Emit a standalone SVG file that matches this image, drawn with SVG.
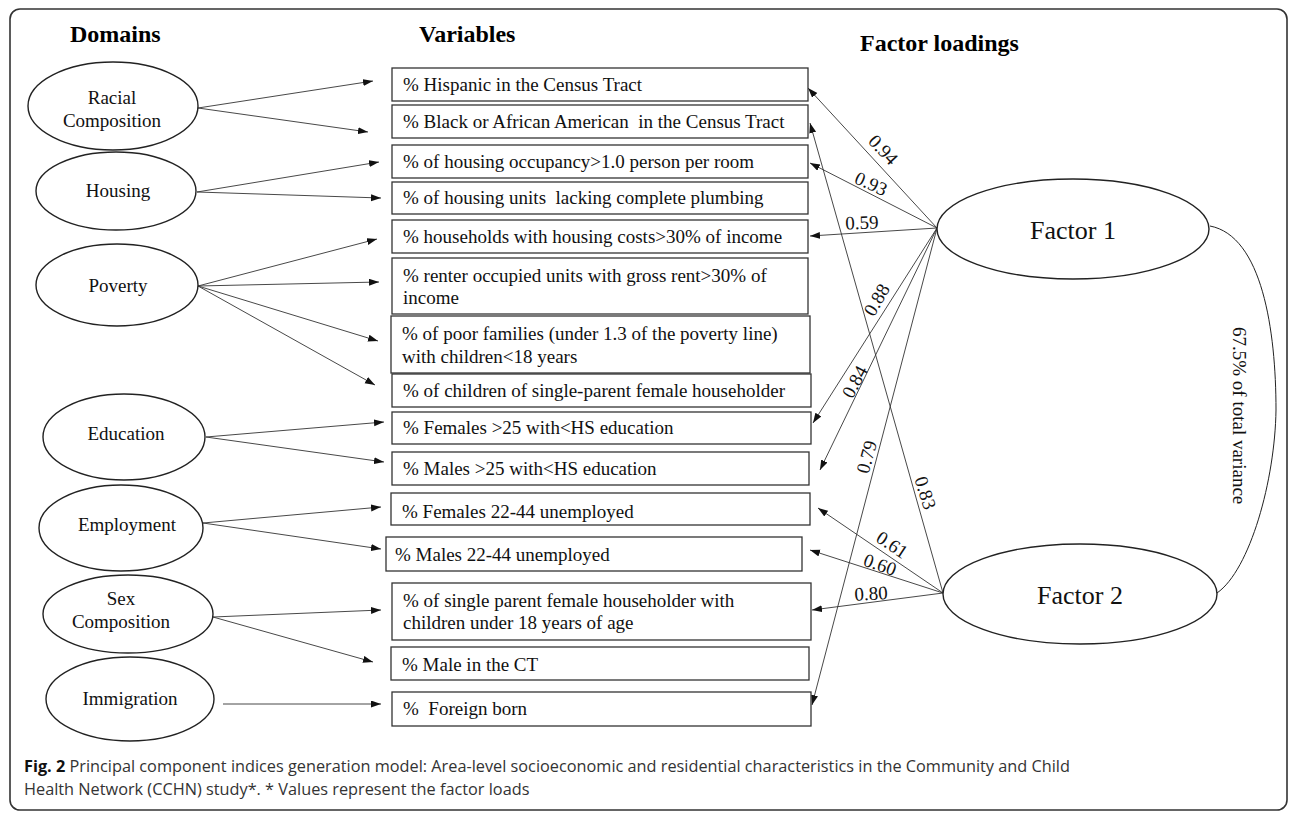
<svg xmlns="http://www.w3.org/2000/svg" width="1290" height="814" viewBox="0 0 1290 814">
<style>
.t{font-family:"Liberation Serif","Times New Roman",serif;font-size:19px;fill:#111;white-space:pre}
.h{font-weight:bold;font-size:24px;fill:#000}
.box{fill:#fff;stroke:#333;stroke-width:1.3}
.ell{fill:#fff;stroke:#222;stroke-width:1.4}
.ln{stroke:#333;stroke-width:0.9;fill:none;marker-end:url(#ah)}
.c{text-anchor:middle}
.f{font-size:26px}
.cap{font-family:"Open Sans","Noto Sans",sans-serif;font-size:16.3px;fill:#333}
</style>
<defs>
<marker id="ah" markerUnits="userSpaceOnUse" markerWidth="11" markerHeight="8" refX="10" refY="3.5" orient="auto">
<path d="M0,0 L10,3.5 L0,7 z" fill="#111"/>
</marker>
</defs>
<rect x="10" y="9" width="1277" height="801" rx="10" fill="#fff" stroke="#333" stroke-width="1.6"/>
<text class="t h" x="70" y="42">Domains</text>
<text class="t h" x="419" y="42">Variables</text>
<text class="t h" x="860" y="51">Factor loadings</text>

<g id="connectors">
<line class="ln" x1="198" y1="108" x2="373" y2="81"/>
<line class="ln" x1="198" y1="108" x2="368" y2="132"/>
<line class="ln" x1="197" y1="192" x2="379" y2="162"/>
<line class="ln" x1="197" y1="192" x2="381" y2="198"/>
<line class="ln" x1="198" y1="286" x2="377" y2="239"/>
<line class="ln" x1="198" y1="286" x2="379" y2="282"/>
<line class="ln" x1="198" y1="286" x2="378" y2="341"/>
<line class="ln" x1="198" y1="286" x2="375" y2="385"/>
<line class="ln" x1="206" y1="437" x2="384" y2="422"/>
<line class="ln" x1="206" y1="437" x2="384" y2="462"/>
<line class="ln" x1="203" y1="523" x2="381" y2="507"/>
<line class="ln" x1="203" y1="523" x2="381" y2="549"/>
<line class="ln" x1="213" y1="617" x2="381" y2="610"/>
<line class="ln" x1="213" y1="617" x2="373" y2="662"/>
<line class="ln" x1="223" y1="704" x2="381" y2="704"/>
<line class="ln" x1="937" y1="228" x2="808" y2="88"/>
<line class="ln" x1="937" y1="228" x2="810" y2="163"/>
<line class="ln" x1="937" y1="228" x2="810" y2="236"/>
<line class="ln" x1="937" y1="228" x2="813" y2="423"/>
<line class="ln" x1="937" y1="228" x2="820" y2="470"/>
<line class="ln" x1="937" y1="228" x2="812" y2="705"/>
<line class="ln" x1="943" y1="593" x2="810" y2="123"/>
<line class="ln" x1="943" y1="593" x2="818" y2="508"/>
<line class="ln" x1="943" y1="593" x2="810" y2="550"/>
<line class="ln" x1="943" y1="593" x2="812" y2="610"/>
<path d="M1210,226 C1262,236 1276,330 1276,410 C1275,480 1250,570 1217,593" fill="none" stroke="#222" stroke-width="1"/>
<text class="t" transform="translate(1233,327) rotate(90)">67.5% of total variance</text>
<g class="t c">
<text transform="translate(883,150) rotate(47)" y="6">0.94</text>
<text transform="translate(871,184) rotate(24)" y="6">0.93</text>
<text transform="translate(862,223) rotate(-2)" y="6">0.59</text>
<text transform="translate(877,300) rotate(-60)" y="6">0.88</text>
<text transform="translate(855,382) rotate(-62)" y="6">0.84</text>
<text transform="translate(867,457) rotate(-75)" y="6">0.79</text>
<text transform="translate(925,493) rotate(72)" y="6">0.83</text>
<text transform="translate(892,545) rotate(34)" y="6">0.61</text>
<text transform="translate(880,565) rotate(19)" y="6">0.60</text>
<text transform="translate(871,594) rotate(-3)" y="6">0.80</text>
</g>
</g>

<g id="d-racial"><ellipse class="ell" cx="113" cy="106" rx="85" ry="44"/><text class="t c" x="112" y="104">Racial</text><text class="t c" x="112" y="127">Composition</text></g>
<g id="d-housing"><ellipse class="ell" cx="116" cy="191" rx="80" ry="39"/><text class="t c" x="118" y="197">Housing</text></g>
<g id="d-poverty"><ellipse class="ell" cx="117" cy="285" rx="81" ry="41"/><text class="t c" x="118" y="292">Poverty</text></g>
<g id="d-education"><ellipse class="ell" cx="124" cy="437" rx="81" ry="43"/><text class="t c" x="126" y="440">Education</text></g>
<g id="d-employment"><ellipse class="ell" cx="121" cy="528" rx="82" ry="43"/><text class="t c" x="127" y="531">Employment</text></g>
<g id="d-sex"><ellipse class="ell" cx="128" cy="614" rx="85" ry="39"/><text class="t c" x="121" y="605">Sex</text><text class="t c" x="121" y="628">Composition</text></g>
<g id="d-immigration"><ellipse class="ell" cx="130" cy="699" rx="84" ry="42"/><text class="t c" x="130" y="705">Immigration</text></g>

<g id="v1"><rect class="box" x="392" y="68" width="416" height="33"/><text class="t" x="403" y="91">% Hispanic in the Census Tract</text></g>
<g id="v2"><rect class="box" x="392" y="105" width="416" height="33"/><text class="t" x="403" y="128" xml:space="preserve">% Black or African American  in the Census Tract</text></g>
<g id="v3"><rect class="box" x="392" y="145" width="416" height="33"/><text class="t" x="403" y="168">% of housing occupancy&gt;1.0 person per room</text></g>
<g id="v4"><rect class="box" x="392" y="182" width="416" height="32"/><text class="t" x="403" y="204" xml:space="preserve">% of housing units  lacking complete plumbing</text></g>
<g id="v5"><rect class="box" x="392" y="220" width="416" height="33"/><text class="t" x="403" y="243">% households with housing costs&gt;30% of income</text></g>
<g id="v6"><rect class="box" x="392" y="258" width="416" height="56"/><text class="t" x="403" y="282">% renter occupied units with gross rent&gt;30% of</text><text class="t" x="403" y="304">income</text></g>
<g id="v7"><rect class="box" x="391" y="316" width="419" height="57"/><text class="t" x="402" y="340">% of poor families (under 1.3 of the poverty line)</text><text class="t" x="402" y="363">with children&lt;18 years</text></g>
<g id="v8"><rect class="box" x="392" y="374" width="419" height="33"/><text class="t" x="403" y="397">% of children of single-parent female householder</text></g>
<g id="v9"><rect class="box" x="392" y="412" width="419" height="32"/><text class="t" x="403" y="434">% Females &gt;25 with&lt;HS education</text></g>
<g id="v10"><rect class="box" x="392" y="452" width="417" height="33"/><text class="t" x="403" y="475">% Males &gt;25 with&lt;HS education</text></g>
<g id="v11"><rect class="box" x="391" y="493" width="419" height="32"/><text class="t" x="402" y="518">% Females 22-44 unemployed</text></g>
<g id="v12"><rect class="box" x="386" y="537" width="416" height="34"/><text class="t" x="395" y="561">% Males 22-44 unemployed</text></g>
<g id="v13"><rect class="box" x="392" y="583" width="419" height="57"/><text class="t" x="403" y="607">% of single parent female householder with</text><text class="t" x="403" y="629">children under 18 years of age</text></g>
<g id="v14"><rect class="box" x="391" y="647" width="418" height="33"/><text class="t" x="402" y="671">% Male in the CT</text></g>
<g id="v15"><rect class="box" x="392" y="692" width="419" height="34"/><text class="t" x="403" y="715" xml:space="preserve">%  Foreign born</text></g>

<g id="factor1"><ellipse class="ell" cx="1073" cy="229" rx="136" ry="50"/><text class="t c f" x="1073" y="239">Factor 1</text></g>
<g id="factor2"><ellipse class="ell" cx="1080" cy="594" rx="137" ry="50"/><text class="t c f" x="1080" y="604">Factor 2</text></g>

<text class="cap" x="24" y="772"><tspan font-weight="bold" fill="#111">Fig. 2</tspan> Principal component indices generation model: Area-level socioeconomic and residential characteristics in the Community and Child</text>
<text class="cap" x="24" y="795">Health Network (CCHN) study*. * Values represent the factor loads</text>
</svg>
